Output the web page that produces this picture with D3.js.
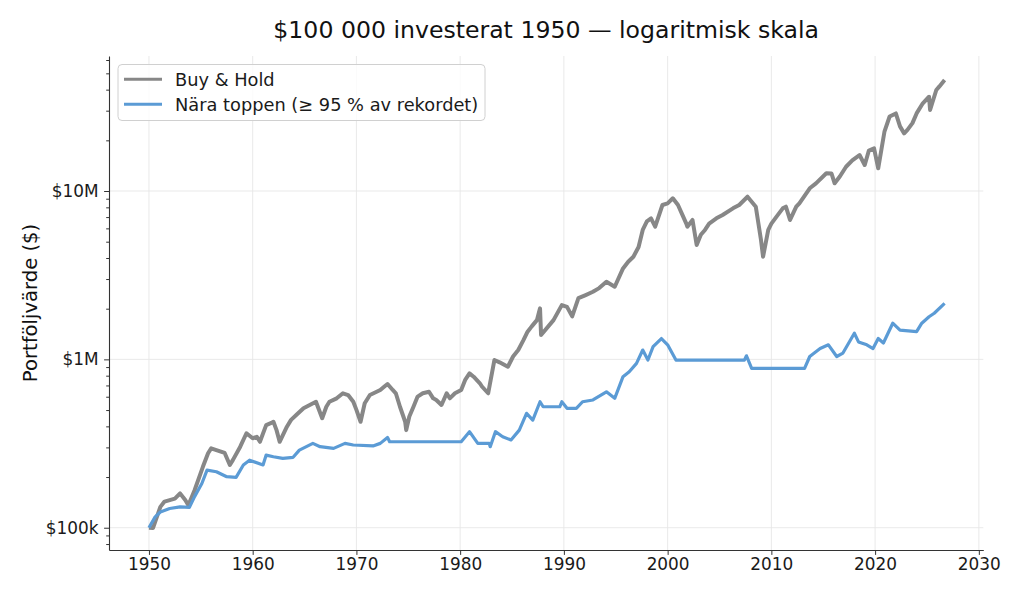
<!DOCTYPE html>
<html>
<head>
<meta charset="utf-8">
<script src="https://cdn.jsdelivr.net/npm/d3@7"></script>
<style>
  body { margin: 0; background: #fff; }
  svg { font-family: "DejaVu Sans", sans-serif; }
</style>
</head>
<body>
<div id="chart"></div>
<script>
// Buy & Hold, portfolio value ($)
var bhYears = [1950.0, 1950.4, 1951.1, 1951.5, 1952.0, 1952.5, 1953.0, 1953.5, 1953.8, 1954.4,
  1955.2, 1955.7, 1956.0, 1956.5, 1957.3, 1957.8, 1958.1, 1958.8, 1959.4, 1960.0,
  1960.4, 1960.7, 1961.3, 1961.8, 1962.0, 1962.3, 1962.6, 1963.3, 1963.7, 1964.2,
  1964.9, 1965.5, 1966.1, 1966.7, 1967.1, 1967.4, 1968.1, 1968.7, 1969.2, 1969.7,
  1970.0, 1970.4, 1970.8, 1971.3, 1972.3, 1972.7, 1973.0, 1973.5, 1973.8, 1974.2,
  1974.7, 1974.8, 1975.1, 1975.5, 1975.9, 1976.4, 1977.0, 1977.4, 1977.7, 1978.2,
  1978.7, 1979.0, 1979.5, 1980.1, 1980.5, 1980.9, 1981.3, 1981.9, 1982.1, 1982.7,
  1983.3, 1983.8, 1984.6, 1985.1, 1985.6, 1986.1, 1986.5, 1986.9, 1987.4, 1987.7,
  1987.8, 1989.0, 1989.8, 1990.3, 1990.8, 1991.4, 1992.1, 1992.8, 1993.4, 1994.1,
  1994.9, 1995.7, 1996.2, 1996.7, 1997.2, 1997.6, 1998.0, 1998.4, 1998.8, 1999.5,
  2000.0, 2000.5, 2001.0, 2001.5, 2001.8, 2001.9, 2002.4, 2002.8, 2003.2, 2003.6,
  2004.0, 2004.7, 2005.3, 2006.3, 2006.9, 2007.7, 2008.5, 2009.0, 2009.2, 2009.7,
  2010.0, 2010.5, 2011.1, 2011.4, 2011.8, 2012.4, 2012.7, 2013.7, 2014.3, 2015.3,
  2015.8, 2016.1, 2016.6, 2017.2, 2017.8, 2018.5, 2019.0, 2019.4, 2019.9, 2020.3,
  2020.9, 2021.4, 2022.0, 2022.4, 2022.8, 2023.1, 2023.6, 2024.0, 2024.6, 2025.2,
  2025.3, 2025.9, 2026.2, 2026.7];
var bhValues = [100e3, 99.7e3, 133e3, 143e3, 146e3, 149e3, 160e3, 146e3, 136e3, 167e3,
  230e3, 277e3, 296e3, 289e3, 278e3, 236e3, 253e3, 303e3, 364e3, 340e3,
  347e3, 324e3, 407e3, 419e3, 426e3, 380e3, 324e3, 398e3, 437e3, 467e3,
  513e3, 536e3, 560e3, 447e3, 523e3, 560e3, 587e3, 629e3, 614e3, 560e3,
  501e3, 426e3, 549e3, 614e3, 658e3, 690e3, 714e3, 658e3, 629e3, 523e3,
  426e3, 380e3, 458e3, 523e3, 601e3, 629e3, 642e3, 587e3, 574e3, 536e3,
  629e3, 587e3, 629e3, 658e3, 759e3, 826e3, 789e3, 721e3, 690e3, 629e3,
  991e3, 960e3, 904e3, 1.04e6, 1.136e6, 1.30e6, 1.46e6, 1.57e6, 1.71e6, 2.01e6,
  1.395e6, 1.71e6, 2.10e6, 2.05e6, 1.80e6, 2.31e6, 2.41e6, 2.52e6, 2.65e6, 2.89e6,
  2.70e6, 3.47e6, 3.80e6, 4.07e6, 4.65e6, 5.87e6, 6.6e6, 6.88e6, 6.14e6, 8.26e6,
  8.45e6, 9.05e6, 8.26e6, 7.04e6, 6.4e6, 6.14e6, 6.73e6, 4.78e6, 5.5e6, 5.87e6,
  6.4e6, 6.88e6, 7.2e6, 7.89e6, 8.26e6, 9.25e6, 8.07e6, 5.12e6, 4.07e6, 5.87e6,
  6.4e6, 7.04e6, 7.89e6, 8.07e6, 6.73e6, 8.07e6, 8.45e6, 10.38e6, 11.1e6, 12.74e6,
  12.7e6, 11.11e6, 12.2e6, 13.94e6, 15.2e6, 16.36e6, 14.27e6, 17.4e6, 17.93e6, 13.64e6,
  22.5e6, 27.7e6, 28.9e6, 24.2e6, 22.0e6, 23.0e6, 25.3e6, 28.9e6, 33.2e6, 36.3e6,
  30.3e6, 39.8e6, 41.8e6, 45.6e6];

// Nära toppen (>= 95 % av rekordet)
var ntYears = [1950.0, 1950.6, 1951.1, 1952.0, 1953.0, 1953.9, 1954.4, 1955.1, 1955.6, 1956.5,
  1957.5, 1958.4, 1959.1, 1959.7, 1961.0, 1961.3, 1962.0, 1962.9, 1963.9, 1964.5,
  1965.8, 1966.5, 1967.8, 1968.9, 1969.7, 1971.6, 1972.3, 1973.0, 1973.2, 1980.1,
  1980.9, 1981.7, 1982.8, 1982.9, 1983.4, 1984.1, 1984.9, 1985.7, 1986.4, 1987.0,
  1987.7, 1988.0, 1989.6, 1989.8, 1990.3, 1991.2, 1991.8, 1992.8, 1994.1, 1994.9,
  1995.7, 1996.3, 1997.0, 1997.6, 1998.1, 1998.6, 1999.4, 2000.0, 2000.8, 2007.4,
  2007.6, 2008.1, 2013.2, 2013.7, 2014.7, 2015.5, 2016.3, 2016.9, 2018.0, 2018.4,
  2019.2, 2019.8, 2020.3, 2020.8, 2021.7, 2022.4, 2024.0, 2024.5, 2025.2, 2025.7,
  2026.7];
var ntValues = [100e3, 116e3, 124e3, 130e3, 133e3, 132e3, 153e3, 183e3, 220e3, 215e3,
  201e3, 199e3, 236e3, 252e3, 236e3, 270e3, 264e3, 258e3, 262e3, 289e3,
  317e3, 303e3, 296e3, 317e3, 310e3, 306e3, 317e3, 344e3, 324e3, 324e3,
  372e3, 317e3, 317e3, 303e3, 372e3, 347e3, 332e3, 380e3, 478e3, 436e3,
  560e3, 523e3, 523e3, 560e3, 512e3, 512e3, 560e3, 574e3, 642e3, 587e3,
  789e3, 845e3, 947e3, 1.136e6, 991e3, 1.19e6, 1.33e6, 1.22e6, 990e3, 990e3,
  1.05e6, 885e3, 885e3, 1.04e6, 1.16e6, 1.22e6, 1.04e6, 1.09e6, 1.43e6, 1.27e6,
  1.22e6, 1.16e6, 1.33e6, 1.25e6, 1.64e6, 1.49e6, 1.46e6, 1.64e6, 1.79e6, 1.88e6,
  2.15e6];

var seriesNames = ["Buy & Hold", "Nära toppen (≥ 95 % av rekordet)"];
var xTickValues = [1950, 1960, 1970, 1980, 1990, 2000, 2010, 2020, 2030];
var yTickValues = [1e5, 1e6, 1e7];
var yTickLabels = ["$100k", "$1M", "$10M"];

function init(){
    var w = 1024;
    var h = 597;
    var left = 109, right = 983.3, top = 56, bottom = 550;
    var grey = "#878787";
    var blue = "#5b9bd5";

    var svg = d3.select("#chart")
                .append("svg")
                .attr("width", w)
                .attr("height", h);

    var x = d3.scaleLinear().domain([1946.15, 2030.43]).range([left, right]);
    var y = d3.scaleLog().domain([73740, 63.38e6]).range([bottom, top]);

    // grid
    svg.append("g").selectAll("line")
        .data(xTickValues)
        .enter().append("line")
        .attr("x1", function(d){ return x(d); })
        .attr("x2", function(d){ return x(d); })
        .attr("y1", top).attr("y2", bottom)
        .attr("stroke", "#e6e6e6").attr("stroke-width", 0.9);
    svg.append("g").selectAll("line")
        .data(yTickValues)
        .enter().append("line")
        .attr("x1", left).attr("x2", right)
        .attr("y1", function(d){ return y(d); })
        .attr("y2", function(d){ return y(d); })
        .attr("stroke", "#e6e6e6").attr("stroke-width", 0.9);

    // lines
    var line = d3.line()
        .x(function(d){ return x(d[0]); })
        .y(function(d){ return y(d[1]); });

    svg.append("path")
        .datum(d3.zip(bhYears, bhValues))
        .attr("d", line)
        .attr("fill", "none")
        .attr("stroke", grey)
        .attr("stroke-width", 4)
        .attr("stroke-linejoin", "round");

    svg.append("path")
        .datum(d3.zip(ntYears, ntValues))
        .attr("d", line)
        .attr("fill", "none")
        .attr("stroke", blue)
        .attr("stroke-width", 3.2)
        .attr("stroke-linejoin", "round");

    // x axis
    var xAxis = svg.append("g")
        .attr("transform", "translate(0," + bottom + ")")
        .call(d3.axisBottom(x).tickValues(xTickValues).tickFormat(d3.format("d"))
              .tickSize(4.9).tickPadding(3.5).tickSizeOuter(0));
    xAxis.selectAll("text").attr("font-size", "16.9px").attr("fill", "#1a1a1a")
        .attr("font-family", "DejaVu Sans");

    // y axis, minor ticks first
    var minor = y.ticks().filter(function(d){ return yTickValues.indexOf(d) < 0; });
    svg.append("g")
        .attr("transform", "translate(" + left + ",0)")
        .call(d3.axisLeft(y).tickValues(minor).tickFormat("").tickSize(2.8).tickSizeOuter(0))
        .call(function(g){ g.select(".domain").remove(); });

    var yAxis = svg.append("g")
        .attr("transform", "translate(" + left + ",0)")
        .call(d3.axisLeft(y).tickValues(yTickValues)
              .tickFormat(function(d, i){ return yTickLabels[i]; })
              .tickSize(4.9).tickPadding(5.5).tickSizeOuter(0));
    yAxis.selectAll("text").attr("font-size", "16.9px").attr("fill", "#1a1a1a")
        .attr("font-family", "DejaVu Sans");

    svg.selectAll(".domain").attr("stroke", "#333").attr("stroke-width", 1.1);
    svg.selectAll(".tick line").attr("stroke", "#333").attr("stroke-width", 1);

    // title
    svg.append("text")
        .attr("x", (left + right) / 2)
        .attr("y", 38)
        .attr("text-anchor", "middle")
        .attr("font-size", "23.6px")
        .attr("fill", "#111")
        .text("$100 000 investerat 1950 — logaritmisk skala");

    // y label
    svg.append("text")
        .attr("transform", "translate(37," + ((top + bottom) / 2) + ") rotate(-90)")
        .attr("text-anchor", "middle")
        .attr("font-size", "19.6px")
        .attr("fill", "#111")
        .text("Portföljvärde ($)");

    // legend
    var lg = svg.append("g");
    lg.append("rect")
        .attr("x", 118).attr("y", 64.5)
        .attr("width", 367).attr("height", 56)
        .attr("rx", 4)
        .attr("fill", "white").attr("fill-opacity", 0.8)
        .attr("stroke", "#d0d0d0").attr("stroke-width", 1);
    var colors = [grey, blue];
    lg.selectAll("line")
        .data(seriesNames)
        .enter().append("line")
        .attr("x1", 124).attr("x2", 162)
        .attr("y1", function(d, i){ return 79.3 + i * 25; })
        .attr("y2", function(d, i){ return 79.3 + i * 25; })
        .attr("stroke", function(d, i){ return colors[i]; })
        .attr("stroke-width", 3);
    lg.selectAll("text")
        .data(seriesNames)
        .enter().append("text")
        .attr("x", 175)
        .attr("y", function(d, i){ return 79.3 + i * 25; })
        .attr("dy", "0.36em")
        .attr("font-size", "17.8px")
        .attr("fill", "#1a1a1a")
        .text(function(d){ return d; });
}
window.onload = init;
</script>
</body>
</html>
